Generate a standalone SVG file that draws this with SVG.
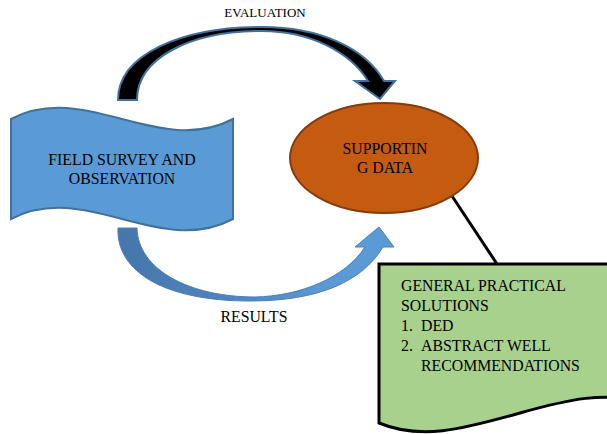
<svg xmlns="http://www.w3.org/2000/svg" width="607" height="434" viewBox="0 0 607 434">
<defs>
<linearGradient id="resGrad" gradientUnits="userSpaceOnUse" x1="118" y1="0" x2="330" y2="0">
<stop offset="0" stop-color="#4676AA"/>
<stop offset="0.55" stop-color="#4F86C0"/>
<stop offset="1" stop-color="#5B9BD5"/>
</linearGradient>
</defs>
<style>
text{font-family:"Liberation Serif","Times New Roman",serif;fill:#000;font-size:15.8px}
.c{text-anchor:middle}
.wave{fill:#5B9BD5;stroke:#41719C;stroke-width:2}
.oval{fill:#C55A11;stroke:#843C0C;stroke-width:2}
.doc{fill:#A9D18E;stroke:#000;stroke-width:3}
.eval{fill:#000;stroke:#41719C;stroke-width:2;stroke-linejoin:miter}
.res{fill:url(#resGrad);stroke:#4A7EBB;stroke-width:1}
.link{stroke:#000;stroke-width:3;fill:none}
</style>
<rect width="607" height="434" fill="#fff"/>
<g id="connectors">
<path class="link" d="M452,196 L497,264"/>
<path class="eval" d="M118,100 C118,55 180,27 262,27 C320,27 365,48 384,81 L395,81 L380,99 L355,81 L368,81 C350,52 310,31 262,31 C190,31 137,58 137,100 Z"/>
<path class="res" d="M118,228 C116,272 165,301 250,301 C318,301 362,282 383,247 L394,247 L379,227 L355,247 L365,247 C345,278 300,296 255,297 C190,297 138,270 137,228 Z"/>
<text class="c" x="265" y="17" style="font-size:13px">EVALUATION</text>
<text class="c" x="254" y="322">RESULTS</text>
</g>
<g id="node-field">
<path class="wave" d="M11,119 C85,80 159,158 233,119 L233,219 C159,258 85,180 11,219 Z"/>
<text class="c" x="122" y="165">FIELD SURVEY AND</text>
<text class="c" x="122" y="184">OBSERVATION</text>
</g>
<g id="node-supporting">
<ellipse class="oval" cx="384" cy="158" rx="94" ry="55"/>
<text class="c" x="385" y="154">SUPPORTIN</text>
<text class="c" x="385" y="173">G DATA</text>
</g>
<g id="node-solutions">
<path class="doc" d="M625,264 L379,264 L379,423 C420,440 460,430 520,413 S600,396 625,398 Z"/>
<text x="401" y="291">GENERAL PRACTICAL</text>
<text x="401" y="311">SOLUTIONS</text>
<text x="401" y="331">1.</text>
<text x="421" y="331">DED</text>
<text x="401" y="351">2.</text>
<text x="421" y="351">ABSTRACT WELL</text>
<text x="421" y="371">RECOMMENDATIONS</text>
</g>
</svg>
